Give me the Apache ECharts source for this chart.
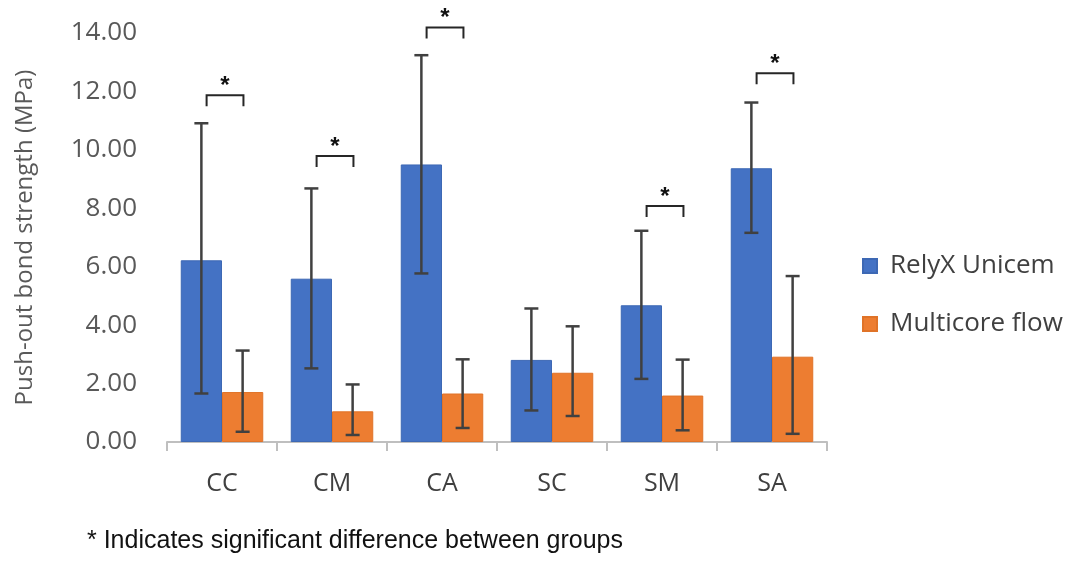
<!DOCTYPE html>
<html>
<head>
<meta charset="utf-8">
<script src="https://cdn.jsdelivr.net/npm/echarts@6/dist/echarts.min.js"></script>
<style>
html, body { margin: 0; padding: 0; background: #fff; }
#main { width: 1084px; height: 561px; }
</style>
</head>
<body>
<div id="main"></div>
<script>
// groups and values
var categories = ['CC', 'CM', 'CA', 'SC', 'SM', 'SA'];
var relyxMean = [6.22, 5.59, 9.50, 2.81, 4.68, 9.37];
var relyxLow = [1.66, 2.52, 5.77, 1.08, 2.16, 7.16];
var relyxHigh = [10.91, 8.68, 13.24, 4.57, 7.23, 11.62];
var multiMean = [1.71, 1.05, 1.66, 2.37, 1.59, 2.92];
var multiLow = [0.35, 0.24, 0.48, 0.89, 0.40, 0.28];
var multiHigh = [3.13, 1.97, 2.83, 3.96, 2.82, 5.68];
// significance brackets
var sigGroups = ['CC', 'CM', 'CA', 'SM', 'SA'];
var sigLevel = [11.87, 9.79, 14.19, 8.08, 12.62];

var barPct = 0.375;
var chart = echarts.init(document.getElementById('main'));

function errData(low, high) {
    var d = [];
    for (var i = 0; i < categories.length; i++) {
        d.push([i, low[i], high[i]]);
    }
    return d;
}

// side: -1 = left bar, 1 = right bar
function errorItem(side) {
    return function (params, api) {
        var c = api.value(0);
        var lo = api.coord([c, api.value(1)]);
        var hi = api.coord([c, api.value(2)]);
        var band = api.size([1, 0])[0];
        var x = lo[0] + side * band * barPct / 2;
        var st = { stroke: '#404040', lineWidth: 2.5 };
        return {
            type: 'group',
            children: [
                { type: 'line', shape: { x1: x, y1: lo[1], x2: x, y2: hi[1] }, style: st },
                { type: 'line', shape: { x1: x - 7, y1: lo[1], x2: x + 7, y2: lo[1] }, style: st },
                { type: 'line', shape: { x1: x - 7, y1: hi[1], x2: x + 7, y2: hi[1] }, style: st }
            ]
        };
    };
}

var sigData = [];
for (var i = 0; i < sigGroups.length; i++) {
    sigData.push([categories.indexOf(sigGroups[i]), sigLevel[i]]);
}

function bracketItem(params, api) {
    var p = api.coord([api.value(0), api.value(1)]);
    var band = api.size([1, 0])[0];
    var xa = p[0] - 0.14 * band;
    var xb = p[0] + 0.195 * band;
    var y = p[1];
    return {
        type: 'group',
        children: [
            {
                type: 'polyline',
                shape: { points: [[xa, y + 11], [xa, y], [xb, y], [xb, y + 11]] },
                style: { stroke: '#262626', lineWidth: 2, fill: null }
            },
            {
                type: 'text',
                x: (xa + xb) / 2,
                y: y - 9,
                style: {
                    text: '*', fill: '#111', font: 'bold 24px "Liberation Sans"',
                    align: 'center', verticalAlign: 'middle'
                }
            }
        ]
    };
}

var option = {
    animation: false,
    backgroundColor: '#fff',
    grid: { left: 167, right: 257, top: 33, bottom: 119 },
    legend: {
        orient: 'vertical',
        left: 857,
        top: 248,
        itemWidth: 14,
        itemHeight: 14,
        itemGap: 32,
        icon: 'rect',
        data: ['RelyX Unicem', 'Multicore flow'],
        textStyle: { fontFamily: 'Open Sans', fontSize: 26, color: '#404040', padding: [0, 0, 0, 8] }
    },
    xAxis: {
        type: 'category',
        data: categories,
        axisLine: { lineStyle: { color: '#bfbfbf', width: 2 } },
        axisTick: { show: true, length: 9, lineStyle: { color: '#bfbfbf', width: 2 } },
        axisLabel: { fontFamily: 'Open Sans', fontSize: 25, color: '#404040', margin: 29 }
    },
    yAxis: {
        type: 'value',
        min: 0,
        max: 14,
        interval: 2,
        name: 'Push-out bond strength (MPa)',
        nameLocation: 'middle',
        nameGap: 130,
        nameTextStyle: { fontFamily: 'Open Sans', fontSize: 24, color: '#595959' },
        axisLine: { show: false },
        axisTick: { show: false },
        splitLine: { show: false },
        axisLabel: {
            fontFamily: 'Open Sans', fontSize: 26, color: '#595959', margin: 30,
            formatter: function (v) { return v.toFixed(2); }
        }
    },
    series: [
        {
            name: 'RelyX Unicem',
            type: 'bar',
            data: relyxMean,
            barWidth: (barPct * 100) + '%',
            barGap: '0%',
            itemStyle: { color: '#4472C4', borderColor: '#3d68b4', borderWidth: 1 }
        },
        {
            name: 'Multicore flow',
            type: 'bar',
            data: multiMean,
            barWidth: (barPct * 100) + '%',
            barGap: '0%',
            itemStyle: { color: '#ED7D31', borderColor: '#e07328', borderWidth: 1 }
        },
        {
            type: 'custom',
            renderItem: errorItem(-1),
            data: errData(relyxLow, relyxHigh),
            z: 10
        },
        {
            type: 'custom',
            renderItem: errorItem(1),
            data: errData(multiLow, multiHigh),
            z: 10
        },
        {
            type: 'custom',
            renderItem: bracketItem,
            data: sigData,
            clip: false,
            z: 10
        }
    ],
    graphic: [
        {
            type: 'text',
            left: 87,
            top: 529,
            style: {
                text: '* Indicates significant difference between groups',
                font: '25px "Liberation Sans"',
                fill: '#111'
            }
        }
    ]
};

chart.setOption(option);
</script>
</body>
</html>
